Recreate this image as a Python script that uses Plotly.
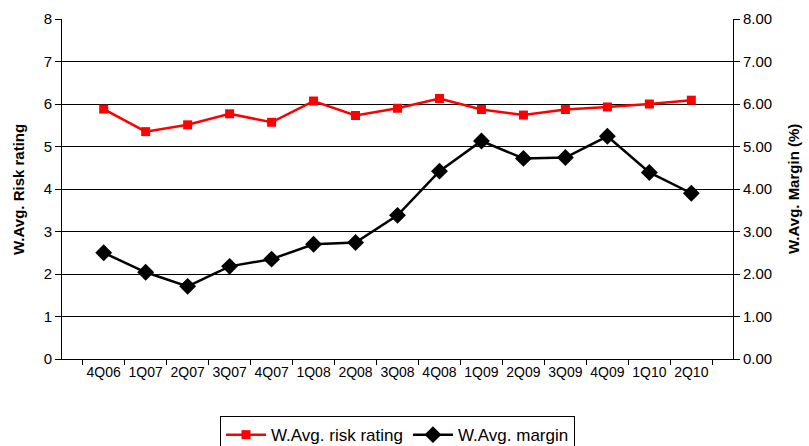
import plotly.graph_objects as go

quarters = ["4Q06", "1Q07", "2Q07", "3Q07", "4Q07", "1Q08", "2Q08", "3Q08",
            "4Q08", "1Q09", "2Q09", "3Q09", "4Q09", "1Q10", "2Q10"]
risk_rating = [5.88, 5.35, 5.51, 5.77, 5.57, 6.07, 5.73, 5.90,
               6.13, 5.87, 5.74, 5.87, 5.93, 6.00, 6.09]
margin = [2.50, 2.04, 1.71, 2.18, 2.35, 2.70, 2.74, 3.38,
          4.42, 5.13, 4.72, 4.74, 5.24, 4.39, 3.90]

fig = go.Figure()
fig.add_trace(go.Scatter(
    x=quarters, y=risk_rating, name="W.Avg. risk rating", mode="lines+markers",
    line=dict(color="#FF0000", width=2.5),
    marker=dict(symbol="square", size=9, color="#FF0000"),
    yaxis="y"))
fig.add_trace(go.Scatter(
    x=quarters, y=margin, name="W.Avg. margin", mode="lines+markers",
    line=dict(color="#000000", width=2.5),
    marker=dict(symbol="diamond", size=13, color="#000000"),
    yaxis="y2"))

fig.update_layout(
    width=809, height=446,
    margin=dict(l=62, r=76, t=19, b=87, autoexpand=False),
    paper_bgcolor="white", plot_bgcolor="white",
    font=dict(family="Liberation Sans, Arial, sans-serif", size=15, color="black"),
    showlegend=True,
    legend=dict(orientation="h", x=0.5, xanchor="center", y=-0.168, yanchor="top",
                bordercolor="black", borderwidth=1, bgcolor="white",
                font=dict(family="Liberation Sans, Arial, sans-serif", size=17),
                itemwidth=40, tracegroupgap=0),
    xaxis=dict(type="category", tickson="boundaries", ticks="outside", ticklen=5,
               tickcolor="black", showline=True, linecolor="black", linewidth=1,
               showgrid=False, zeroline=False, tickangle=0, automargin=False,
               tickfont=dict(family="Liberation Sans, Arial, sans-serif", size=14)),
    yaxis=dict(range=[0, 8], dtick=1, ticks="outside", ticklen=6, tickcolor="black",
               showline=True, linecolor="black", linewidth=1, automargin=False,
               showgrid=True, gridcolor="black", gridwidth=1, zeroline=False),
    yaxis2=dict(range=[0, 8], dtick=1, tickformat=".2f", overlaying="y", side="right",
                ticks="outside", ticklen=6, tickcolor="black", automargin=False,
                showline=True, linecolor="black", linewidth=1,
                showgrid=False, zeroline=False),
    annotations=[
        dict(text="<b>W.Avg. Risk rating</b>", xref="paper", yref="paper",
             x=-0.0656, y=0.5, xanchor="center", yanchor="middle", textangle=-90,
             showarrow=False, font=dict(size=15)),
        dict(text="<b>W.Avg. Margin (%)</b>", xref="paper", yref="paper",
             x=1.0894, y=0.5, xanchor="center", yanchor="middle", textangle=-90,
             showarrow=False, font=dict(size=15)),
    ],
)

fig.write_html("out.html", config={"displayModeBar": False},
               post_script="document.body.style.margin='0';document.body.style.overflow='hidden';")
